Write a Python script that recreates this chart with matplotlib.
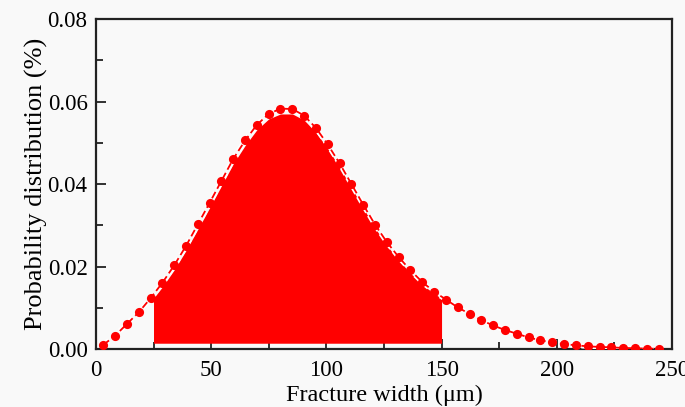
import matplotlib
matplotlib.use("Agg")
import matplotlib.pyplot as plt
from matplotlib.ticker import MultipleLocator
import matplotlib.patheffects as pe

# ── data ─────────────────────────────────────────────────────────────────────
width_um = [3.2, 8.3, 13.5, 18.6, 23.7, 28.9, 34.0, 39.1, 44.2, 49.4,
            54.5, 59.6, 64.8, 69.9, 75.0, 80.1, 85.3, 90.4, 95.5, 100.6,
            105.8, 110.9, 116.0, 121.2, 126.3, 131.4, 136.5, 141.7, 146.8, 151.9,
            157.0, 162.2, 167.3, 172.4, 177.6, 182.7, 187.8, 192.9, 198.1, 203.2,
            208.3, 213.4, 218.6, 223.7, 228.8, 234.0, 239.1, 244.2]
prob = [0.0010, 0.0032, 0.0061, 0.0089, 0.0123, 0.0161, 0.0203, 0.0250, 0.0302, 0.0355,
        0.0408, 0.0461, 0.0506, 0.0544, 0.0570, 0.0583, 0.0582, 0.0566, 0.0536, 0.0496,
        0.0450, 0.0400, 0.0350, 0.0301, 0.0259, 0.0223, 0.0191, 0.0162, 0.0139, 0.0120,
        0.0101, 0.0085, 0.0070, 0.0057, 0.0046, 0.0037, 0.0028, 0.0021, 0.0016, 0.0012,
        0.0009, 0.00065, 0.0005, 0.0004, 0.00025, 0.0002, 0.0001, 0.00005]

# shaded band (25-150 µm)
fill_x = [25.0, 28.9, 34.0, 39.1, 44.2, 49.4, 54.5, 59.6, 64.8, 69.9,
          75.0, 80.1, 85.3, 90.4, 95.5, 100.6, 105.8, 110.9, 116.0, 121.2,
          126.3, 131.4, 136.5, 141.7, 146.8, 150.0]
fill_y = [0.0123, 0.0151, 0.0192, 0.0239, 0.0290, 0.0343, 0.0396, 0.0449, 0.0494, 0.0532,
          0.0558, 0.0570, 0.0570, 0.0555, 0.0525, 0.0486, 0.0440, 0.0391, 0.0342, 0.0293,
          0.0251, 0.0215, 0.0184, 0.0156, 0.0134, 0.0123]
fill_base = 0.0014

RED = "#ff0000"
BG = "#f9f9f9"

plt.rcParams["font.family"] = ["Liberation Serif", "DejaVu Serif"]

fig = plt.figure(figsize=(6.85, 4.07), dpi=100)
fig.patch.set_facecolor(BG)
ax = fig.add_axes([0.140, 0.1425, 0.841, 0.8105])
ax.set_facecolor(BG)

ax.fill_between(fill_x, fill_base, fill_y, color=RED, lw=0, zorder=2)
# dashed line with a thin white halo, markers on top
ax.plot(width_um, prob, color=RED, lw=1.3, ls=(0, (4, 2)), zorder=3,
        path_effects=[pe.Stroke(linewidth=3.8, foreground="white"), pe.Normal()])
ax.plot(width_um, prob, ls="none", marker="o", ms=6.6, mec=RED, mfc=RED,
        mew=0, zorder=4)

ax.set_xlim(0, 250)
ax.set_ylim(0, 0.08)
ax.xaxis.set_major_locator(MultipleLocator(50))
ax.xaxis.set_minor_locator(MultipleLocator(25))
ax.yaxis.set_major_locator(MultipleLocator(0.02))
ax.yaxis.set_minor_locator(MultipleLocator(0.01))
ax.yaxis.set_major_formatter(plt.FormatStrFormatter("%.2f"))

for s in ax.spines.values():
    s.set_linewidth(1.6)
    s.set_color("#222222")
ax.tick_params(which="both", direction="in", top=False, right=False,
               width=1.3, color="#222222", labelsize=16.5)
ax.tick_params(axis="x", pad=8)
ax.tick_params(axis="y", pad=6)
ax.tick_params(which="major", length=7)
ax.tick_params(which="minor", length=5)

ax.set_xlabel("Fracture width (μm)", fontsize=17.5, labelpad=3)
ax.set_ylabel("Probability distribution (%)", fontsize=19, labelpad=0)

fig.savefig("out.png", dpi=100, facecolor=BG)
